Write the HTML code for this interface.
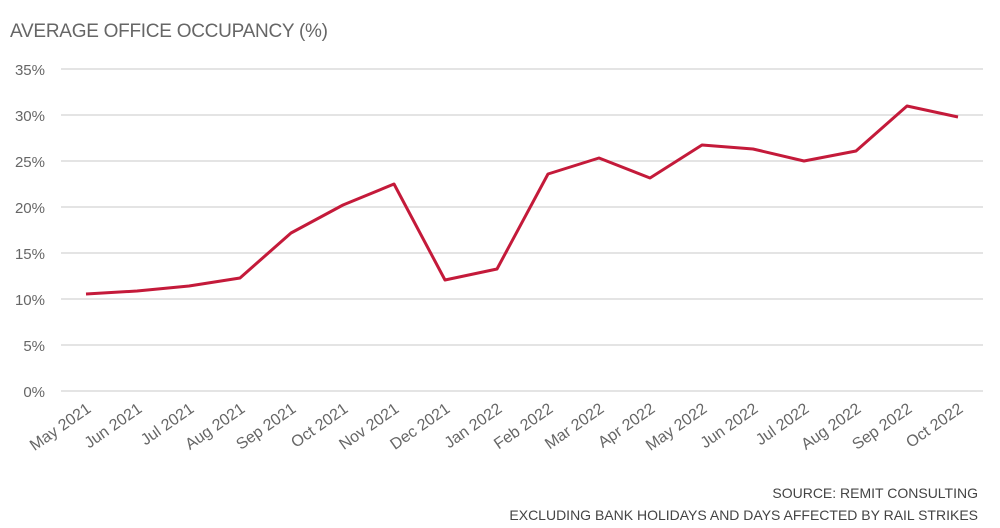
<!DOCTYPE html><html><head><style>body{margin:0;background:#fff}svg{display:block}</style></head><body>
<svg width="1000" height="528" xmlns="http://www.w3.org/2000/svg" font-family="Liberation Sans, sans-serif">
<text x="10" y="37" font-size="19" fill="#666" textLength="318">AVERAGE OFFICE OCCUPANCY (%)</text>
<g stroke="#d4d4d4" stroke-width="1.3">
<line x1="61" x2="983" y1="69" y2="69"/><line x1="61" x2="983" y1="115" y2="115"/><line x1="61" x2="983" y1="161" y2="161"/><line x1="61" x2="983" y1="207" y2="207"/><line x1="61" x2="983" y1="253" y2="253"/><line x1="61" x2="983" y1="299" y2="299"/><line x1="61" x2="983" y1="345" y2="345"/><line x1="61" x2="983" y1="391" y2="391"/>
</g>
<g font-size="15" fill="#666" text-anchor="end">
<text x="45" y="75">35%</text><text x="45" y="121">30%</text><text x="45" y="167">25%</text><text x="45" y="213">20%</text><text x="45" y="259">15%</text><text x="45" y="305">10%</text><text x="45" y="351">5%</text><text x="45" y="397">0%</text>
</g>
<polyline fill="none" stroke="#c41a3a" stroke-width="3" stroke-linejoin="round" points="86,294 137,291 189,286 240,278 291,233 343,205 394,184 445,280 497,269 548,174 599,158 650,178 702,145 753,149 804,161 856,151 907,106 958,117"/>
<g font-size="16" fill="#666" text-anchor="end">
<text transform="translate(92,411) rotate(-35)">May 2021</text>
<text transform="translate(143,411) rotate(-35)">Jun 2021</text>
<text transform="translate(195,411) rotate(-35)">Jul 2021</text>
<text transform="translate(246,411) rotate(-35)">Aug 2021</text>
<text transform="translate(297,411) rotate(-35)">Sep 2021</text>
<text transform="translate(349,411) rotate(-35)">Oct 2021</text>
<text transform="translate(400,411) rotate(-35)">Nov 2021</text>
<text transform="translate(451,411) rotate(-35)">Dec 2021</text>
<text transform="translate(503,411) rotate(-35)">Jan 2022</text>
<text transform="translate(554,411) rotate(-35)">Feb 2022</text>
<text transform="translate(605,411) rotate(-35)">Mar 2022</text>
<text transform="translate(656,411) rotate(-35)">Apr 2022</text>
<text transform="translate(708,411) rotate(-35)">May 2022</text>
<text transform="translate(759,411) rotate(-35)">Jun 2022</text>
<text transform="translate(810,411) rotate(-35)">Jul 2022</text>
<text transform="translate(862,411) rotate(-35)">Aug 2022</text>
<text transform="translate(913,411) rotate(-35)">Sep 2022</text>
<text transform="translate(964,411) rotate(-35)">Oct 2022</text>
</g>
<g font-size="14" fill="#444" text-anchor="end">
<text x="978" y="498">SOURCE: REMIT CONSULTING</text>
<text x="978" y="520">EXCLUDING BANK HOLIDAYS AND DAYS AFFECTED BY RAIL STRIKES</text>
</g>
</svg></body></html>
